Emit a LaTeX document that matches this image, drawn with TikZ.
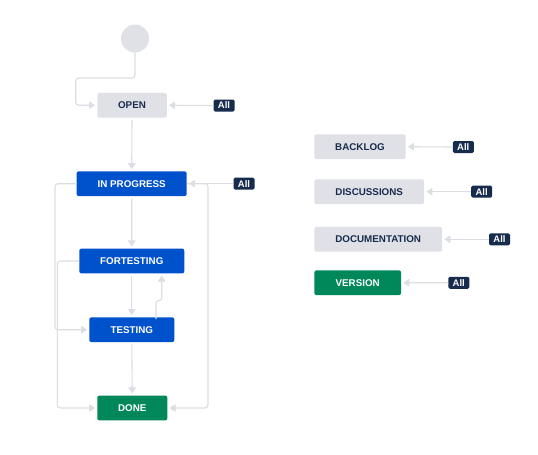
\documentclass[tikz,border=0pt]{standalone}
\usepackage{fontspec}
\setmainfont{Liberation Sans}
\usetikzlibrary{arrows.meta,calc}
\definecolor{lgray}{HTML}{DFE1E6}
\definecolor{lineg}{HTML}{DCDEE3}
\definecolor{navy}{HTML}{172B4D}
\definecolor{jblue}{HTML}{0052CC}
\definecolor{jgreen}{HTML}{00875A}
\tikzset{
  box/.style={rounded corners=2pt, inner sep=0pt, minimum height=24.7pt,
    font=\fontsize{9.8}{11}\selectfont\bfseries},
  graybox/.style={box, fill=lgray, text=navy},
  bluebox/.style={box, fill=jblue, text=white},
  greenbox/.style={box, fill=jgreen, text=white},
  badge/.style={rounded corners=1.5pt, fill=navy, text=white, inner sep=0pt,
    minimum width=21pt, minimum height=12pt, font=\fontsize{9.5}{11}\selectfont\bfseries},
  conn/.style={draw=lineg, line width=1.1pt, rounded corners=3pt,
    -{Triangle[length=6pt,width=7.5pt]}, shorten >=2pt},
  plain/.style={draw=lineg, line width=1.1pt, rounded corners=3pt}
}
\begin{document}
\begin{tikzpicture}[x=1pt,y=-1pt]
\useasboundingbox[fill=white] (0,0) rectangle (538,455);
% start
\node[circle, fill=lgray, minimum size=28pt, inner sep=0pt] (start) at (135,38.5) {};
% left column
\node[graybox, minimum width=69.5pt] (open) at (132,105.2) {OPEN};
\node[bluebox, minimum width=110pt] (ip) at (131.7,183.7) {IN PROGRESS};
\node[bluebox, minimum width=105pt] (ft) at (131.8,261) {FORTESTING};
\node[bluebox, minimum width=85pt] (te) at (131.8,329.7) {TESTING};
\node[greenbox, minimum width=70pt] (done) at (132.3,408) {DONE};
\node[badge] (a1) at (224,105.5) {All};
\node[badge] (a2) at (244,183.7) {All};
% right column
\node[graybox, minimum width=91.4pt] (backlog) at (360,146.7) {BACKLOG};
\node[graybox, minimum width=109.7pt] (disc) at (369.2,191.7) {DISCUSSIONS};
\node[graybox, minimum width=127.7pt] (doc) at (378.2,239.3) {DOCUMENTATION};
\node[greenbox, minimum width=86.7pt] (ver) at (357.7,282.7) {VERSION};
\node[badge] (b1) at (463.3,147) {All};
\node[badge] (b2) at (481.7,191.7) {All};
\node[badge] (b3) at (499.5,239.3) {All};
\node[badge] (b4) at (458.8,282.8) {All};
% coordinates
\coordinate (c1) at (75.7,78);
\coordinate (rr) at (208,300);
\coordinate (l1) at (55,250);
\coordinate (l2) at (57.3,300);
% connectors
\draw[conn] (start.south) |- (c1) |- (open.west);
\draw[conn] (a1.west) -- (open.east);
\draw[conn] ([yshift=-2pt]open.south) -- (ip.north);
\draw[conn] (a2.west) -- (ip.east);
\draw[conn] (ip.east) -| (rr) |- (done.east);
\draw[conn] ([yshift=-2pt]ip.south) -- (ft.north);
\draw[conn] (ip.west) -| (l1) |- (te.west);
\draw[conn] (ft.west) -| (l2) |- (done.west);
\draw[conn] ([yshift=-2pt]ft.south) -- (te.north);
\draw[conn] ([xshift=24.2pt,yshift=-2pt]te.north) -- ++(0,-18.5) -| ([xshift=29.9pt]ft.south);
\draw[conn] ([yshift=-2pt]te.south) -- (done.north);
\draw[conn] (b1.west) -- (backlog.east);
\draw[conn] (b2.west) -- (disc.east);
\draw[conn] (b3.west) -- (doc.east);
\draw[conn] (b4.west) -- (ver.east);
\end{tikzpicture}
\end{document}
